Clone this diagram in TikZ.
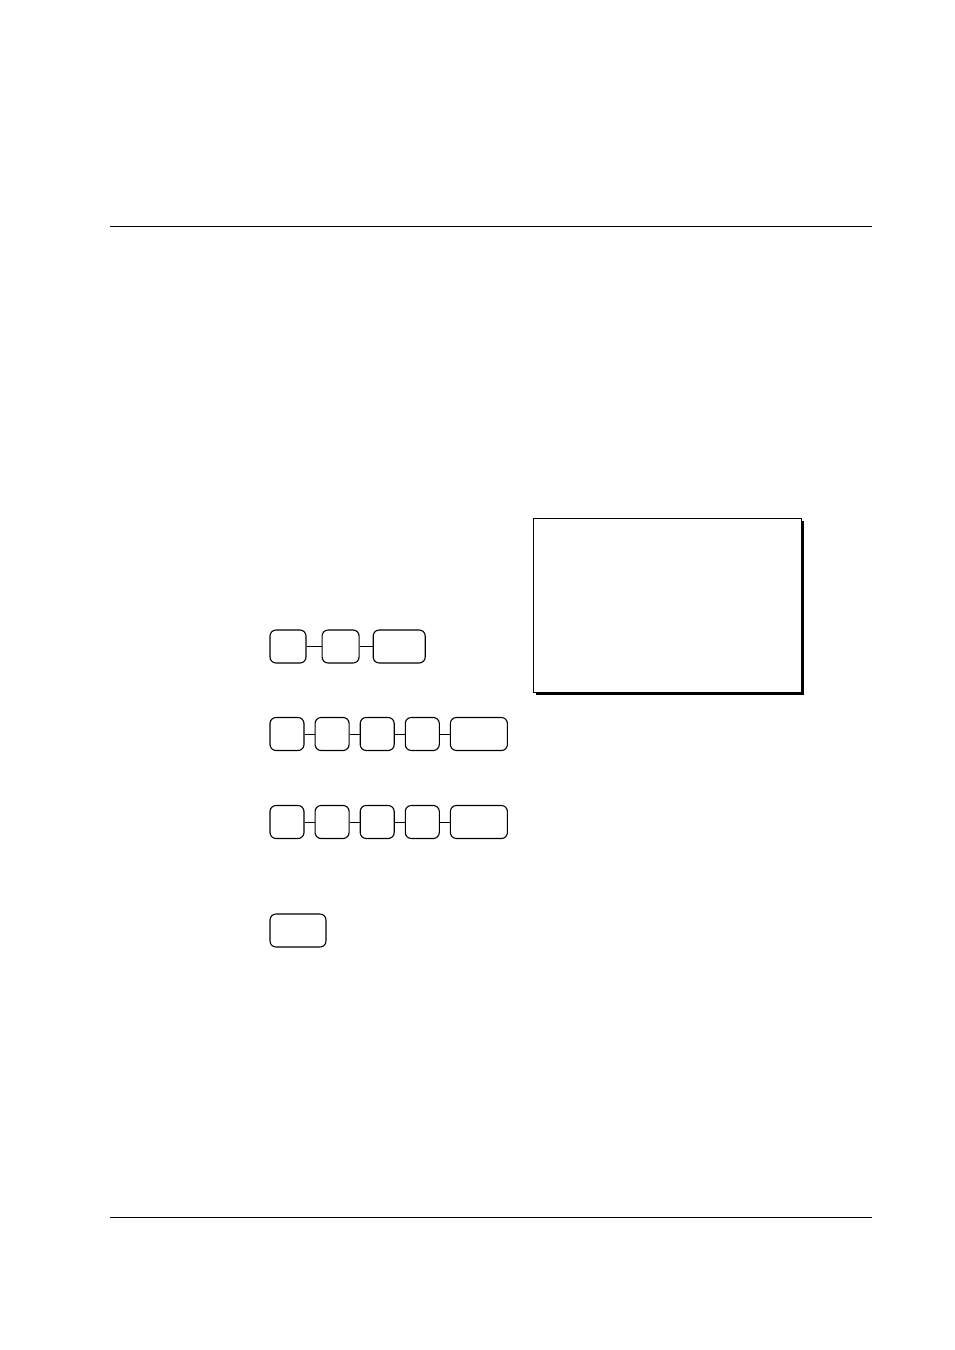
\documentclass[tikz,border=0pt]{standalone}
\usetikzlibrary{positioning}
\begin{document}
\begin{tikzpicture}[
                x = 1pt,
                y = -1pt,
                semithick,
                node distance = 10pt
                ]

                \tikzstyle{key}=[
                        draw = black,
                        rounded corners = 6pt,
                        line width = 1.1pt,
                        fill = white,
                        inner sep = 0pt,
                        minimum width = 34pt,
                        minimum height = 33pt
                ]
                \tikzstyle{widekey}=[key, minimum width = 57pt]

                \useasboundingbox (0,0) rectangle (954,1350);

                % page rules
                \coordinate (ruletopL) at (110,226);
                \coordinate (ruletopR) at (872,226);
                \coordinate (rulebotL) at (110,1217);
                \coordinate (rulebotR) at (872,1217);
                \draw[line width=1pt] (ruletopL) -- (ruletopR);
                \draw[line width=1pt] (rulebotL) -- (rulebotR);

                % first key sequence
                \node[key] (a1) at (288,646.5) [minimum width=36pt] {};
                \node[key] (a2) [right=15pt of a1, minimum width=37pt] {};
                \node[widekey] (a3) [right=13pt of a2, minimum width=52pt] {};
                \draw (a1) -- (a2);
                \draw (a2) -- (a3);

                % second key sequence
                \node[key] (b1) at (287,734) {};
                \node[key] (b2) [right=10pt of b1] {};
                \node[key] (b3) [right=10pt of b2] {};
                \node[key] (b4) [right=10pt of b3] {};
                \node[widekey] (b5) [right=10pt of b4] {};
                \draw (b1) -- (b2);
                \draw (b2) -- (b3);
                \draw (b3) -- (b4);
                \draw (b4) -- (b5);

                % third key sequence
                \node[key] (c1) at (287,822) {};
                \node[key] (c2) [right=10pt of c1] {};
                \node[key] (c3) [right=10pt of c2] {};
                \node[key] (c4) [right=10pt of c3] {};
                \node[widekey] (c5) [right=10pt of c4] {};
                \draw (c1) -- (c2);
                \draw (c2) -- (c3);
                \draw (c3) -- (c4);
                \draw (c4) -- (c5);

                % single key
                \node[widekey] (d1) at (298,930.5) [minimum width=56pt] {};

                % display window with shadow
                \node[draw=black, line width=1pt, minimum width=268pt, minimum height=174pt, inner sep=0pt] (display) at (667,605) {};
                \draw[line width=2pt] ([shift={(1.5,3)}]display.north east) -- ([shift={(1.5,1.5)}]display.south east) -- ([shift={(3,1.5)}]display.south west);
\end{tikzpicture}
\end{document}
